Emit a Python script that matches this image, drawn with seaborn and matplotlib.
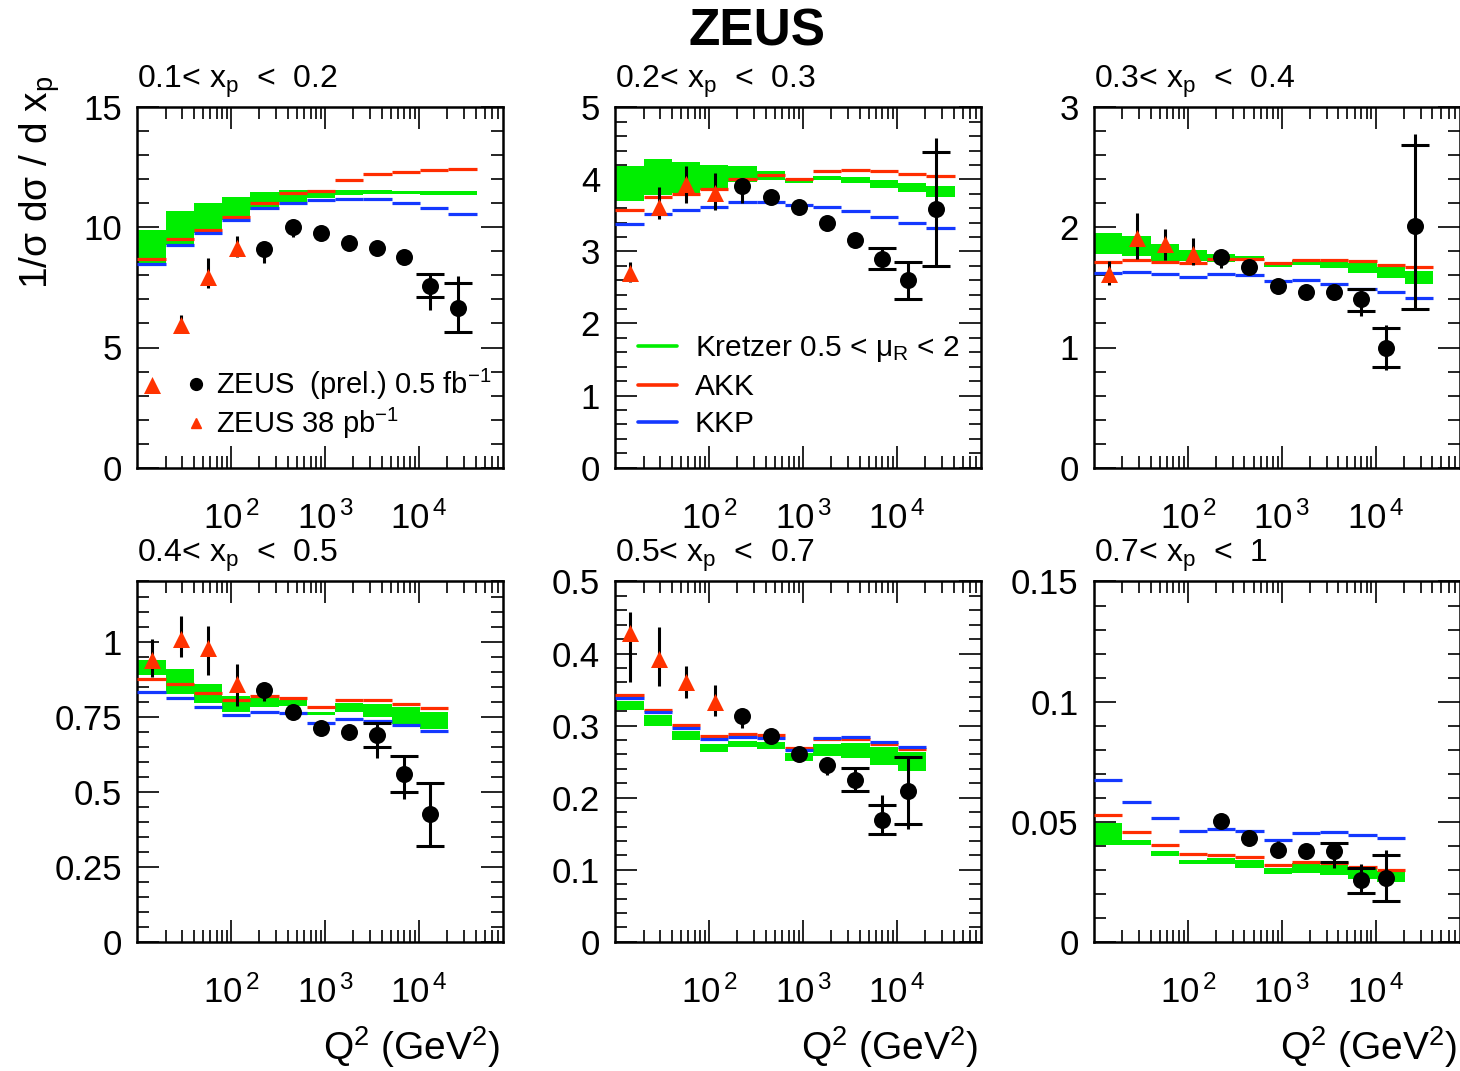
import numpy as np
import matplotlib
matplotlib.use("Agg")
import matplotlib.pyplot as plt
from matplotlib import ticker
from matplotlib.lines import Line2D
import seaborn as sns

# ---------------- data ----------------
Q2_EDGES = [10, 20, 40, 80, 160, 320, 640, 1280, 2560, 5120, 10240, 20480, 40960]
PANEL_TITLES = [r"0.1< x$_{p}$  <  0.2", r"0.2< x$_{p}$  <  0.3", r"0.3< x$_{p}$  <  0.4",
                r"0.4< x$_{p}$  <  0.5", r"0.5< x$_{p}$  <  0.7", r"0.7< x$_{p}$  <  1"]
Y_MAX = [15, 5, 3, 1.2, 0.5, 0.15]
Y_MAJOR = [5, 1, 1, 0.25, 0.1, 0.05]
Y_MINOR = [1, 0.2, 0.2, 0.05, 0.02, 0.01]

KRETZER_HI = [
    [9.89, 10.68, 11.00, 11.25, 11.46, 11.56, 11.57, 11.56, 11.56, 11.53, 11.52, 11.52],
    [4.19, 4.28, 4.24, 4.20, 4.19, 4.12, 4.01, 4.05, 4.03, 3.99, 3.95, 3.91],
    [1.95, 1.93, 1.86, 1.81, 1.78, 1.76, 1.70, 1.73, 1.72, 1.70, 1.67, 1.64],
    [0.937, 0.909, 0.857, 0.818, 0.812, 0.804, 0.767, 0.795, 0.793, 0.782, 0.765],
    [0.334, 0.315, 0.293, 0.274, 0.278, 0.277, 0.262, 0.275, 0.276, 0.271, 0.264],
    [0.0494, 0.0422, 0.0376, 0.0341, 0.0348, 0.0341, 0.0309, 0.0327, 0.0320, 0.0306, 0.0295],
]
KRETZER_LO = [
    [8.44, 9.27, 9.75, 10.31, 10.73, 11.07, 11.21, 11.35, 11.39, 11.38, 11.35, 11.34],
    [3.70, 3.78, 3.81, 3.85, 3.97, 3.99, 3.95, 3.99, 3.95, 3.88, 3.82, 3.75],
    [1.78, 1.76, 1.72, 1.72, 1.71, 1.72, 1.67, 1.69, 1.66, 1.62, 1.58, 1.53],
    [0.887, 0.826, 0.796, 0.767, 0.782, 0.784, 0.754, 0.765, 0.749, 0.726, 0.710],
    [0.321, 0.299, 0.280, 0.263, 0.270, 0.268, 0.251, 0.258, 0.255, 0.246, 0.237],
    [0.0401, 0.0404, 0.0359, 0.0323, 0.0323, 0.0306, 0.0282, 0.0288, 0.0278, 0.0260, 0.0250],
]
AKK = [
    [8.67, 9.50, 9.89, 10.42, 11.00, 11.42, 11.52, 11.97, 12.24, 12.32, 12.39, 12.45],
    [3.57, 3.75, 3.80, 3.87, 4.01, 4.06, 4.01, 4.12, 4.13, 4.11, 4.07, 4.05],
    [1.71, 1.73, 1.71, 1.70, 1.74, 1.74, 1.70, 1.73, 1.73, 1.72, 1.69, 1.67],
    [0.874, 0.857, 0.830, 0.804, 0.818, 0.812, 0.782, 0.806, 0.806, 0.793, 0.780],
    [0.342, 0.322, 0.301, 0.286, 0.289, 0.287, 0.269, 0.281, 0.282, 0.275, 0.268],
    [0.0529, 0.0459, 0.0404, 0.0365, 0.0362, 0.0351, 0.0320, 0.0334, 0.0327, 0.0313, 0.0299],
]
KKP = [
    [8.48, 9.28, 9.75, 10.31, 10.79, 11.03, 11.14, 11.20, 11.17, 11.00, 10.81, 10.56],
    [3.38, 3.52, 3.57, 3.62, 3.69, 3.69, 3.64, 3.62, 3.56, 3.48, 3.40, 3.33],
    [1.62, 1.63, 1.61, 1.59, 1.61, 1.60, 1.55, 1.56, 1.53, 1.49, 1.46, 1.41],
    [0.832, 0.812, 0.782, 0.757, 0.767, 0.762, 0.730, 0.743, 0.737, 0.721, 0.701],
    [0.338, 0.319, 0.297, 0.281, 0.284, 0.283, 0.266, 0.283, 0.284, 0.277, 0.270],
    [0.0672, 0.0584, 0.0515, 0.0463, 0.0470, 0.0461, 0.0422, 0.0455, 0.0459, 0.0445, 0.0434],
]

# ZEUS (prel.) 0.5 fb^-1
Q2_NEW = [225, 450, 900, 1800, 3600, 7000, 13000, 26000]
NEW_Y = [
    [9.10, 10.03, 9.78, 9.37, 9.13, 8.78, 7.58, 6.63],
    [3.91, 3.75, 3.62, 3.40, 3.16, 2.89, 2.60, 3.59],
    [1.75, 1.67, 1.51, 1.46, 1.46, 1.40, 1.00, 2.01],
    [0.840, 0.765, 0.712, 0.699, 0.688, 0.558, 0.425],
    [0.314, 0.285, 0.260, 0.246, 0.225, 0.169, 0.209],
    [0.0501, 0.0434, 0.0383, 0.0376, 0.0376, 0.0257, 0.0264],
]
NEW_TOT_DN = [
    [0.59, 0.41, 0.15, 0.12, 0.12, 0.12, 1.02, 1.00],
    [0.24, 0.05, 0.05, 0.05, 0.08, 0.13, 0.26, 0.79],
    [0.09, 0.03, 0.03, 0.03, 0.05, 0.14, 0.19, 0.69],
    [0.039, 0.01, 0.01, 0.01, 0.076, 0.083, 0.106],
    [0.017, 0.004, 0.004, 0.014, 0.016, 0.020, 0.052],
    [0.001, 0.001, 0.001, 0.001, 0.0070, 0.0052, 0.0094],
]
NEW_TOT_UP = [
    [0.25, 0.25, 0.15, 0.12, 0.12, 0.12, 0.47, 1.36],
    [0.05, 0.05, 0.05, 0.05, 0.05, 0.16, 0.26, 0.99],
    [0.03, 0.03, 0.03, 0.03, 0.03, 0.09, 0.19, 0.77],
    [0.01, 0.01, 0.01, 0.01, 0.042, 0.060, 0.104],
    [0.004, 0.004, 0.004, 0.004, 0.016, 0.035, 0.047],
    [0.001, 0.001, 0.0035, 0.001, 0.0037, 0.0066, 0.0119],
]
NEW_STAT_DN = [
    [0, 0, 0, 0, 0, 0, 0.46, 1.00],
    [0, 0, 0, 0, 0, 0.13, 0.26, 0.79],
    [0, 0, 0, 0, 0, 0.10, 0.16, 0.69],
    [0, 0, 0, 0, 0.039, 0.059, 0.106],
    [0, 0, 0, 0, 0.016, 0.020, 0.046],
    [0, 0, 0, 0, 0.0045, 0.0052, 0.0094],
]
NEW_STAT_UP = [
    [0, 0, 0, 0, 0, 0, 0.47, 1.04],
    [0, 0, 0, 0, 0, 0.16, 0.26, 0.79],
    [0, 0, 0, 0, 0, 0.09, 0.16, 0.68],
    [0, 0, 0, 0, 0.042, 0.060, 0.104],
    [0, 0, 0, 0, 0.016, 0.021, 0.047],
    [0, 0, 0, 0, 0.0037, 0.0052, 0.0098],
]

# ZEUS 38 pb^-1
Q2_OLD = [14.5, 29, 57, 114]
OLD_Y = [
    [3.44, 5.94, 7.95, 9.13],
    [2.70, 3.61, 3.94, 3.81],
    [1.61, 1.91, 1.86, 1.78],
    [0.937, 1.007, 0.978, 0.859],
    [0.428, 0.393, 0.361, 0.333],
    [],
]
OLD_DN = [
    [0.05, 0.31, 0.49, 0.37],
    [0.13, 0.16, 0.27, 0.23],
    [0.09, 0.17, 0.13, 0.09],
    [0.055, 0.059, 0.089, 0.072],
    [0.067, 0.038, 0.023, 0.020],
    [],
]
OLD_UP = [
    [0.05, 0.41, 0.76, 0.51],
    [0.16, 0.28, 0.25, 0.28],
    [0.11, 0.21, 0.13, 0.13],
    [0.072, 0.078, 0.073, 0.067],
    [0.029, 0.044, 0.022, 0.023],
    [],
]

# ---------------- style ----------------
GREEN = "#00ee00"
RED = "#ff2d00"
BLUE = "#1438ff"
TRI_RED = "#ff3300"

sns.set_theme(style="ticks")
plt.rcParams["font.family"] = ["Liberation Sans", "DejaVu Sans"]
plt.rcParams["mathtext.fontset"] = "custom"
plt.rcParams["mathtext.rm"] = "Liberation Sans"
plt.rcParams["mathtext.it"] = "Liberation Sans:italic"
plt.rcParams["mathtext.default"] = "regular"
plt.rcParams["axes.linewidth"] = 1.8
plt.rcParams["axes.edgecolor"] = "black"
plt.rcParams["text.color"] = "black"
plt.rcParams["axes.labelcolor"] = "black"
plt.rcParams["xtick.color"] = "black"
plt.rcParams["ytick.color"] = "black"

fig = plt.figure(figsize=(14.6, 10.71), dpi=100)
W, H = 1460.0, 1071.0
col_left = [137.3, 615.3, 1094.0]
row_top = [107.3, 581.5]
aw, ah = 365.5, 360.3

edges = np.array(Q2_EDGES, dtype=float)
axes = []
for i in range(6):
    r, c = divmod(i, 3)
    ax = fig.add_axes([col_left[c] / W, 1 - (row_top[r] + ah) / H, aw / W, ah / H])
    axes.append(ax)
    nb = len(AKK[i])
    lo = np.array(KRETZER_LO[i])
    hi = np.array(KRETZER_HI[i])
    left = edges[:nb]
    right = edges[1:nb + 1]
    ax.bar(left, hi - lo, width=right - left, bottom=lo, align="edge",
           color=GREEN, linewidth=0, zorder=2)
    ax.hlines(AKK[i], left, right, colors=RED, linewidth=2.3, zorder=3)
    ax.hlines(KKP[i], left, right, colors=BLUE, linewidth=2.3, zorder=3)

    # old data (triangles)
    if len(OLD_Y[i]):
        n = len(OLD_Y[i])
        ax.errorbar(Q2_OLD[:n], OLD_Y[i], yerr=[OLD_DN[i], OLD_UP[i]], fmt="none",
                    ecolor="black", elinewidth=2.2, capsize=0, zorder=4)
        sns.scatterplot(x=Q2_OLD[:n], y=OLD_Y[i], ax=ax, marker="^", color=TRI_RED,
                        s=150, linewidth=0, zorder=5, legend=False)

    # new data (circles)
    n = len(NEW_Y[i])
    xq = np.array(Q2_NEW[:n], dtype=float)
    yv = np.array(NEW_Y[i])
    ax.errorbar(xq, yv, yerr=[NEW_TOT_DN[i], NEW_TOT_UP[i]], fmt="none",
                ecolor="black", elinewidth=2.2, capsize=0, zorder=4)
    sdn = np.array(NEW_STAT_DN[i])
    sup = np.array(NEW_STAT_UP[i])
    m = (sdn > 0) | (sup > 0)
    if m.any():
        ax.errorbar(xq[m], yv[m], yerr=[sdn[m], sup[m]], fmt="none", ecolor="black",
                    elinewidth=0, capsize=10, capthick=2.2, zorder=4)
    sns.scatterplot(x=xq, y=yv, ax=ax, marker="o", color="black", s=150,
                    linewidth=0, zorder=6, legend=False)

    # axes format
    ax.set_xscale("log")
    ax.set_xlim(10, 78000)
    ax.set_ylim(0, Y_MAX[i])
    ax.xaxis.set_major_locator(ticker.FixedLocator([100, 1000, 10000]))
    ax.xaxis.set_minor_locator(ticker.LogLocator(base=10, subs=np.arange(2, 10), numticks=30))
    ax.xaxis.set_major_formatter(ticker.FuncFormatter(
        lambda v, p: r"$10^{\,%d}$" % int(round(np.log10(v)))))
    ax.xaxis.set_minor_formatter(ticker.NullFormatter())
    ax.yaxis.set_major_locator(ticker.MultipleLocator(Y_MAJOR[i]))
    ax.yaxis.set_minor_locator(ticker.MultipleLocator(Y_MINOR[i]))
    ax.yaxis.set_major_formatter(ticker.FuncFormatter(lambda v, p: "%g" % round(v, 6)))
    ax.tick_params(which="both", direction="in", top=True, right=True, width=1.2,
                   colors="black", labelsize=25)
    ax.tick_params(which="major", length=16)
    ax.tick_params(which="minor", length=8.5)
    ax.tick_params(axis="y", pad=11)
    ax.tick_params(axis="x", pad=24)
    ax.set_xlabel("")
    ax.set_ylabel("")
    ax.set_facecolor("white")
    for s in ax.spines.values():
        s.set_visible(True)
        s.set_linewidth(1.8)
        s.set_color("black")
    ax.text(0.0, 1.02, PANEL_TITLES[i], transform=ax.transAxes, ha="left",
            va="bottom", fontsize=23)

# legends
h1 = [Line2D([], [], marker="o", color="black", ls="none", markersize=8.5),
      Line2D([], [], marker="^", color=TRI_RED, ls="none", markersize=7)]
axes[0].legend(h1, [r"ZEUS  (prel.) 0.5 fb$^{-1}$", r"ZEUS 38 pb$^{-1}$"],
               loc="upper left", bbox_to_anchor=(0.136, 0.28), frameon=False,
               fontsize=21, handlelength=0.6, handletextpad=0.4, labelspacing=0.15,
               borderpad=0, borderaxespad=0)
h2 = [Line2D([], [], color=GREEN, lw=2.6), Line2D([], [], color=RED, lw=2.6),
      Line2D([], [], color=BLUE, lw=2.6)]
axes[1].legend(h2, [r"Kretzer 0.5 < $\mu_{R}$ < 2", "AKK", "KKP"],
               loc="upper left", bbox_to_anchor=(0.062, 0.37), frameon=False,
               fontsize=21.5, handlelength=1.3, handletextpad=0.6, labelspacing=0.3,
               borderpad=0, borderaxespad=0)

fig.text(757 / W, 1 - 32 / H, "ZEUS", ha="center", va="center", fontsize=37,
         fontweight="bold")
fig.text(40 / W, 1 - 182 / H, r"1/$\sigma$ d$\sigma$ / d x$_{p}$", rotation=90,
         ha="center", va="center", fontsize=28)
for xr in [500, 978, 1457]:
    fig.text(xr / W, 1 - 1047 / H, r"Q$^{2}$ (GeV$^{2}$)", ha="right", va="center",
             fontsize=28)

fig.savefig("out.png", dpi=100, facecolor="white")
